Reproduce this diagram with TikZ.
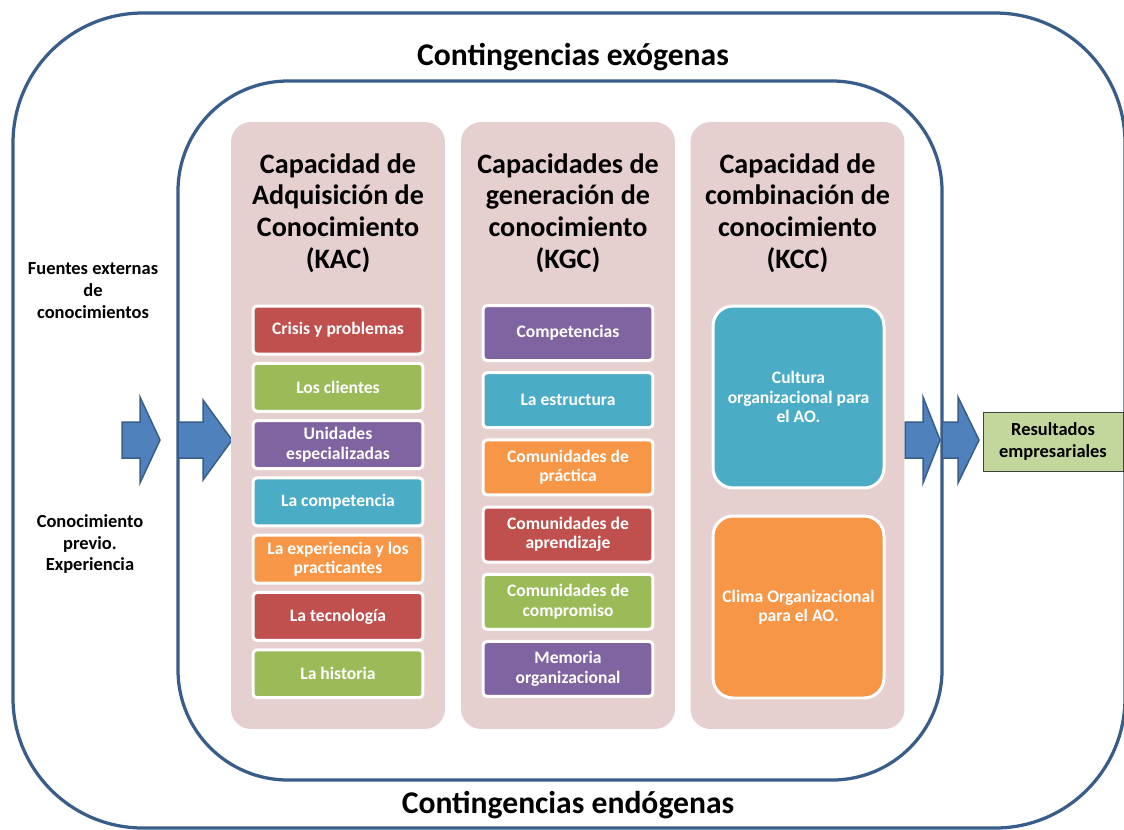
\documentclass[tikz,border=0pt]{standalone}
\usepackage{fontspec}
\setmainfont{Carlito}
\usetikzlibrary{positioning}
\definecolor{frameblue}{HTML}{385D8A}
\definecolor{arrowblue}{HTML}{4F81BD}
\definecolor{panelpink}{HTML}{E6CFCF}
\definecolor{itemred}{HTML}{C0504D}
\definecolor{itemgreen}{HTML}{9BBB59}
\definecolor{itempurple}{HTML}{8064A2}
\definecolor{itemaqua}{HTML}{4BACC6}
\definecolor{itemorange}{HTML}{F79646}
\definecolor{resultgreen}{HTML}{C3D69B}
\tikzstyle{frame}=[
        draw = frameblue,
        line width = 0.065cm
    ]
\tikzstyle{panel}=[
        fill = panelpink,
        rounded corners = 0.4cm,
        minimum width = 4.28cm,
        minimum height = 12.14cm
    ]
\tikzstyle{item}=[
        draw = white,
        line width = 0.06cm,
        rounded corners = 0.08cm,
        minimum width = 3.4cm,
        minimum height = 0.96cm,
        text = white,
        align = center,
        font = \fontsize{10}{11}\selectfont\bfseries
    ]
\tikzstyle{tall item}=[
        item,
        minimum height = 1.1cm
    ]
\tikzstyle{big item}=[
        item,
        rounded corners = 0.4cm,
        minimum width = 3.42cm,
        minimum height = 3.64cm
    ]
\tikzstyle{title}=[
        align = center,
        font = \fontsize{16}{18.1}\selectfont\bfseries
    ]
\tikzstyle{side}=[
        align = center,
        font = \fontsize{10.5}{12.5}\selectfont\bfseries
    ]
\newcommand{\blockarrow}[4]{%
    \filldraw[fill = arrowblue, draw = frameblue, line width = 0.03cm, line join = miter]
        (#1,422) -- (#2,422) -- (#2,440-#4) -- (#3,440) -- (#2,440+#4)
        -- (#2,458) -- (#1,458) -- cycle;}

\begin{document}
\begin{tikzpicture}[x = 0.02cm, y = -0.02cm, node distance = {1.146cm}]
        \useasboundingbox (0,0) rectangle (1124,829);

        % frames
        \draw[frame, rounded corners = 2.6cm] (13,13) rectangle (1125,828);
        \draw[frame, rounded corners = 2.2cm] (178,81) rectangle (942,780);
        \node[title, font = \fontsize{18}{20}\selectfont\bfseries] (exo) at (573,57) {Contingencias exógenas};
        \node[title, font = \fontsize{18}{20}\selectfont\bfseries] (endo) at (568,805) {Contingencias endógenas};

        % inputs and output
        \node[side] (fuentes) at (93,291) {Fuentes externas\\de\\conocimientos};
        \node[side] (previo) at (90,544) {Conocimiento\\previo.\\Experiencia};
        \blockarrow{122}{140}{160}{43}
        \blockarrow{178}{203}{232}{40}
        \blockarrow{905}{923}{940}{43}
        \blockarrow{942}{958}{979}{43}
        \node[side, draw = black!75, line width = 0.02cm, fill = resultgreen,
              minimum width = 2.8cm, minimum height = 1.18cm] (result) at (1053,441.5) {Resultados\\empresariales};

        % panels
        \node[panel] (kac) at (338,425.5) {};
        \node[panel] (kgc) at (568,425.5) {};
        \node[panel] (kcc) at (797.5,425.5) {};
        \node[title] (kactitle) at (338,213) {Capacidad de\\Adquisición de\\Conocimiento\\(KAC)};
        \node[title] (kgctitle) at (568,213) {Capacidades de\\generación de\\conocimiento\\(KGC)};
        \node[title] (kcctitle) at (797.5,213) {Capacidad de\\combinación de\\conocimiento\\(KCC)};

        % KAC
        \node[item, fill = itemred] (crisis) at (338,330) {Crisis y problemas};
        \node[item, fill = itemgreen] (clientes) [below of = crisis] {Los clientes};
        \node[item, fill = itempurple] (unidades) [below of = clientes] {Unidades\\especializadas};
        \node[item, fill = itemaqua] (compet) [below of = unidades] {La competencia};
        \node[item, fill = itemorange] (exper) [below of = compet] {La experiencia y los\\practicantes};
        \node[item, fill = itemred] (tecno) [below of = exper] {La tecnología};
        \node[item, fill = itemgreen] (historia) [below of = tecno] {La historia};

        % KGC
        \begin{scope}[node distance = {1.344cm}]
        \node[tall item, fill = itempurple] (competencias) at (568,333) {Competencias};
        \node[tall item, fill = itemaqua] (estructura) [below of = competencias] {La estructura};
        \node[tall item, fill = itemorange] (practica) [below of = estructura] {Comunidades de\\práctica};
        \node[tall item, fill = itemred] (aprendizaje) [below of = practica] {Comunidades de\\aprendizaje};
        \node[tall item, fill = itemgreen] (compromiso) [below of = aprendizaje] {Comunidades de\\compromiso};
        \node[tall item, fill = itempurple] (memoria) [below of = compromiso] {Memoria\\organizacional};
        \end{scope}

        % KCC
        \node[big item, fill = itemaqua] (cultura) at (798.5,397) {Cultura\\organizacional para\\el AO.};
        \node[big item, fill = itemorange] (clima) at (798.5,607) {Clima Organizacional\\para el AO.};
    \end{tikzpicture}
\end{document}
